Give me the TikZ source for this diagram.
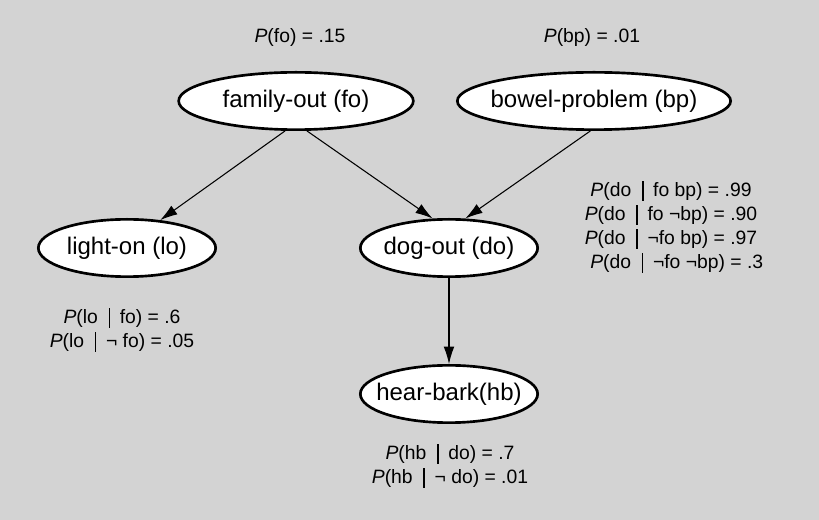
\documentclass[tikz,border=0pt]{standalone}
\usepackage{fontspec}
\setmainfont{Liberation Sans}
\usetikzlibrary{shapes.geometric, arrows.meta}
\definecolor{bggray}{RGB}{211,211,211}
\newcommand{\cbar}{\hspace{0.55em}\rule[-0.2em]{1.2pt}{1em}\hspace{0.5em}}

\begin{document}
\begin{tikzpicture}[
    x=0.75pt, y=-0.75pt,
    var/.style={ellipse, draw, fill=white, line width=2pt, inner xsep=-8pt, inner ysep=0pt, minimum height=43pt, font=\fontsize{18}{22}\selectfont},
    prob/.style={align=center, font=\fontsize{14.5}{18}\selectfont},
    arrow/.style={-{Latex[length=13pt, width=8pt]}, line width=0.8pt}
]
    % Background
    \fill[bggray] (0,0) rectangle (819,520);

    % Nodes
    \node[var, minimum width=176pt] (fo) at (296,101) {family-out (fo)};
    \node[var, minimum width=205pt] (bp) at (594,101) {bowel-problem (bp)};
    \node[var, minimum width=133pt] (lo) at (127,248) {light-on (lo)};
    \node[var, minimum width=133pt] (do) at (449,248) {dog-out (do)};
    \node[var, minimum width=133pt] (hb) at (449,394) {hear-bark(hb)};

    % Probabilities
    \node[prob] (pfo) at (300,38) {\textit{P}(fo) = .15};
    \node[prob] (pbp) at (592,38) {\textit{P}(bp) = .01};
    \node[prob] (cpdo) at (671,227) {\textit{P}(do\cbar fo bp) = .99\\
        \textit{P}(do\cbar fo ¬bp) = .90\\
        \textit{P}(do\cbar ¬fo bp) = .97\\
        \hspace{0.6em}\textit{P}(do\cbar ¬fo ¬bp) = .3};
    \node[prob] (cplo) at (122,330) {\textit{P}(lo\cbar fo) = .6\\
        \textit{P}(lo\cbar ¬ fo) = .05};
    \node[prob] (cphb) at (450,466) {\textit{P}(hb\cbar do) = .7\\
        \textit{P}(hb\cbar ¬ do) = .01};

    % Arrows
    \draw[arrow] (fo.250) -- (lo.40);
    \draw[arrow] (fo.290) -- (do.119);
    \draw[arrow] (bp.263) -- (do.61);
    \draw[arrow] (do) -- (hb);
\end{tikzpicture}
\end{document}
